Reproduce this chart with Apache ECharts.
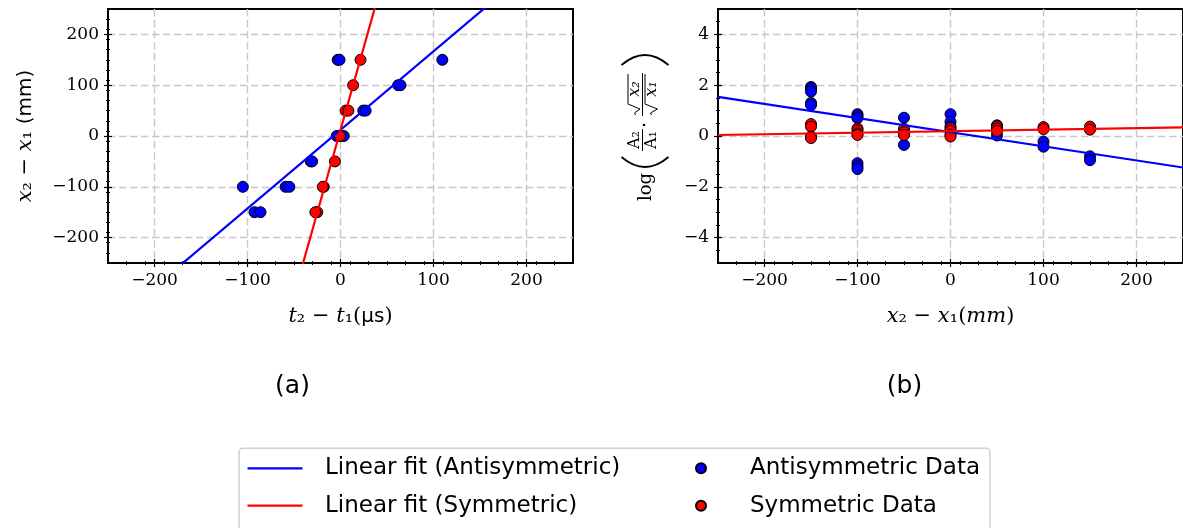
<!DOCTYPE html>
<html>
<head>
<meta charset="utf-8">
<script src="https://cdn.jsdelivr.net/npm/echarts@6/dist/echarts.min.js"></script>
<style>
  html, body { margin: 0; padding: 0; background: #fff; }
  #chart { width: 1183px; height: 528px; }
</style>
</head>
<body>
<div id="chart"></div>
<script>
// ---- (a) arrival-time difference vs. sensor spacing ----
const antiDelayA   = [-3, -1, 109.5, 62, 64.5, 24.5, 27, -4, 0, 3.5, -32, -30.5, -105, -59, -55, -92.5, -86];
const antiSpacingA = [150, 150, 150, 100, 100, 50, 50, 0, 0, 0, -50, -50, -100, -100, -100, -150, -150];
const symDelayA    = [21.5, 13.6, 5.5, 8.5, -0.7, -6, -18, -19, -25, -27];
const symSpacingA  = [150, 100, 50, 50, 0, -50, -100, -100, -150, -150];
// linear fits: [slope, intercept]
const fitAntiA = [1.547, 12];
const fitSymA  = [6.51, 11.7];

// ---- (b) log amplitude ratio vs. sensor spacing ----
const antiPosB   = [-150, -150, -150, -150, -150, -100, -100, -100, -100, -100, -100, -50, -50, 0, 0, 0, 50, 50, 50, 100, 100, 150, 150];
const antiRatioB = [1.93, 1.85, 1.75, 1.3, 1.22, 0.86, 0.78, 0.7, -1.07, -1.2, -1.3, 0.72, -0.35, 0.86, 0.56, 0.37, 0.42, 0.35, 0.02, -0.22, -0.42, -0.8, -0.95];
const symPosB    = [-150, -150, -150, -150, -100, -100, -100, -100, -50, -50, -50, 0, 0, 0, 0, 50, 50, 50, 100, 100, 150, 150];
const symRatioB  = [0.47, 0.37, -0.02, -0.08, 0.3, 0.22, 0.1, 0.04, 0.28, 0.15, 0.04, 0.3, 0.2, 0.05, -0.02, 0.38, 0.3, 0.2, 0.35, 0.27, 0.37, 0.25];
const fitAntiB = [-0.00556, 0.15];
const fitSymB  = [0.0006, 0.19];

// ---- axes ----
const spanA = [-250, 250];
const spanBX = [-250, 250];
const spanBY = [-5, 5];
const ticksA  = [-200, -100, 0, 100, 200];
const ticksBX = [-200, -100, 0, 100, 200];
const ticksBY = [-4, -2, 0, 2, 4];

function minorValues(span, step, majors) {
  const out = [];
  for (let v = span[0] + step; v < span[1] - 1e-9; v += step) {
    const r = Math.round(v * 100) / 100;
    if (!majors.some(m => Math.abs(m - r) < 1e-9)) out.push(r);
  }
  return out;
}

const zip = (xs, ys) => xs.map((x, i) => [x, ys[i]]);
const fitLine = (f, span) => span.map(x => [x, f[0] * x + f[1]]);
const fmt = v => (v < 0 ? '\u2212' + Math.abs(v) : String(v));

const SERIF = 'DejaVu Serif';
const SANS = 'DejaVu Sans';
const BLUE = '#0000ff';
const RED = '#ff0000';

const nameRich = {
  i: { fontFamily: SERIF, fontStyle: 'italic', fontSize: 21, color: '#000' },
  s: { fontFamily: SANS, fontSize: 20, color: '#000' }
};

function mainAxis(grid, span, ticks, extra) {
  return Object.assign({
    type: 'value', gridIndex: grid, min: span[0], max: span[1],
    axisLine: { show: true, onZero: false, lineStyle: { color: '#000', width: 2 } },
    axisTick: { show: false, customValues: ticks },
    axisLabel: { customValues: ticks, formatter: fmt, margin: 9, color: '#000', fontFamily: SERIF, fontSize: 17 },
    splitLine: { show: true, lineStyle: { color: '#c8c8c8', width: 1.4, type: [7.5, 3.5] } },
    nameTextStyle: { fontFamily: SERIF, fontSize: 21, color: '#000', rich: nameRich }
  }, extra || {});
}

// tick-only axes shifted inward so the marks straddle the spine
function tickAxis(grid, span, values, len, pos, width) {
  return {
    type: 'value', gridIndex: grid, min: span[0], max: span[1], position: pos,
    offset: -len / 2,
    axisLine: { show: false, onZero: false },
    axisLabel: { show: false },
    splitLine: { show: false },
    axisTick: { show: true, inside: false, length: len, customValues: values, lineStyle: { color: '#000', width: width } }
  };
}

const xAxes = [
  mainAxis(0, spanA, ticksA, {
    position: 'bottom',
    name: '{i|t}\u2082 \u2212 {i|t}\u2081({s|\u00b5s})', nameLocation: 'middle', nameGap: 43
  }),
  tickAxis(0, spanA, ticksA, 8, 'bottom', 1.2),
  tickAxis(0, spanA, minorValues(spanA, 20, ticksA), 4, 'bottom', 1),
  mainAxis(1, spanBX, ticksBX, {
    position: 'bottom',
    name: '{i|x}\u2082 \u2212 {i|x}\u2081({i|mm})', nameLocation: 'middle', nameGap: 43
  }),
  tickAxis(1, spanBX, ticksBX, 8, 'bottom', 1.2),
  tickAxis(1, spanBX, minorValues(spanBX, 20, ticksBX), 4, 'bottom', 1)
];

const yAxes = [
  mainAxis(0, spanA, ticksA, {
    position: 'left',
    name: '{i|x}\u2082 \u2212 {i|x}\u2081 {s|(mm)}', nameLocation: 'middle', nameRotate: 90, nameGap: 72
  }),
  tickAxis(0, spanA, ticksA, 8, 'left', 1.2),
  tickAxis(0, spanA, minorValues(spanA, 20, ticksA), 4, 'left', 1),
  mainAxis(1, spanBY, ticksBY, { position: 'left' }),
  tickAxis(1, spanBY, ticksBY, 8, 'left', 1.2),
  tickAxis(1, spanBY, minorValues(spanBY, 0.5, ticksBY), 4, 'left', 1)
];

const dotStyle = c => ({ color: c, borderColor: '#000', borderWidth: 1, opacity: 1 });
const lineSeries = (name, data, color, xi, yi) => ({
  name, type: 'line', xAxisIndex: xi, yAxisIndex: yi, data,
  symbol: 'none', showSymbol: false, clip: true, z: 4,
  lineStyle: { color, width: 2.2 }, itemStyle: { color }
});
const dotSeries = (name, data, color, xi, yi, z) => ({
  name, type: 'scatter', xAxisIndex: xi, yAxisIndex: yi, data,
  symbol: 'circle', symbolSize: 11, z, itemStyle: dotStyle(color)
});

const legendText = (padLeft) => ({
  fontFamily: SANS, fontSize: 23, color: '#000', lineHeight: 26, padding: [0, 0, 0, padLeft]
});

// stacked-fraction label for panel (b), laid out along the text baseline and rotated upright
const M = '#000';
const frac = (ux0, ux1) => ({ type: 'line', shape: { x1: ux0, y1: 0, x2: ux1, y2: 0 }, style: { stroke: M, lineWidth: 1 } });
const paren = (xEnd, xCtrl) => ({
  type: 'bezierCurve',
  shape: { x1: xEnd, y1: -21, x2: xEnd, y2: 26, cpx1: xCtrl, cpy1: 2.5 },
  style: { stroke: M, lineWidth: 1.8, fill: null }
});
const radical = (pts) => ({ type: 'polyline', shape: { points: pts }, style: { stroke: M, lineWidth: 1, fill: null } });
const mathText = (t, x, y, size, italic) => ({
  type: 'text', x, y,
  style: { text: t, fontFamily: SERIF, fontSize: size, fontStyle: italic ? 'italic' : 'normal', fill: M, align: 'center', verticalAlign: 'middle' }
});

const logLabel = {
  type: 'group', x: 642.5, y: 130, rotation: Math.PI / 2,
  children: [
    mathText('log', -57, 4, 18, false),
    paren(-27, -47),
    mathText('A\u2082', -10, -8, 16, false),
    frac(-21, 1),
    mathText('A\u2081', -10, 9, 16, false),
    { type: 'circle', shape: { cx: 5, cy: 1.5, r: 1.3 }, style: { fill: M } },
    radical([[15, -7], [17, -8], [21, -2.5], [26, -14.5], [56, -14.5]]),
    mathText('x\u2082', 41, -7.5, 16, true),
    frac(14, 57),
    radical([[15, 9], [17, 8], [21, 15], [26, 2.5], [56, 2.5]]),
    mathText('x\u2081', 41, 9.5, 16, true),
    paren(65, 85)
  ]
};

const lineIcon = 'rect';

const option = {
  animation: false,
  backgroundColor: '#fff',
  grid: [
    { left: 108, top: 9, width: 465, height: 254, show: true, borderColor: '#000', borderWidth: 2, backgroundColor: 'transparent' },
    { left: 718, top: 9, width: 465, height: 254, show: true, borderColor: '#000', borderWidth: 2, backgroundColor: 'transparent' }
  ],
  xAxis: xAxes,
  yAxis: yAxes,
  legend: [
    {
      data: [
        { name: 'Linear fit (Antisymmetric)', icon: lineIcon },
        { name: 'Linear fit (Symmetric)', icon: lineIcon }
      ],
      orient: 'vertical', left: 247.5, top: 455.3, padding: 0,
      itemWidth: 55, itemHeight: 2.2, itemGap: 11.4, selectedMode: false,
      textStyle: legendText(17.5)
    },
    {
      data: ['Antisymmetric Data', 'Symmetric Data'],
      orient: 'vertical', left: 695, top: 455.3, padding: 0,
      itemWidth: 10, itemHeight: 10, itemGap: 11.4, selectedMode: false,
      textStyle: legendText(39)
    }
  ],
  graphic: [
    {
      type: 'rect', z: 0, silent: true,
      shape: { x: 239, y: 448.3, width: 751, height: 110, r: 4 },
      style: { fill: '#fff', stroke: '#d0d0d0', lineWidth: 1.5 }
    },
    { type: 'text', x: 292.5, y: 386, style: { text: '(a)', fontFamily: SANS, fontSize: 25, fill: '#000', align: 'center', verticalAlign: 'middle' } },
    { type: 'text', x: 904.5, y: 386, style: { text: '(b)', fontFamily: SANS, fontSize: 25, fill: '#000', align: 'center', verticalAlign: 'middle' } },
    logLabel
  ],
  series: [
    dotSeries('Antisymmetric Data', zip(antiDelayA, antiSpacingA), BLUE, 0, 0, 2),
    dotSeries('Symmetric Data', zip(symDelayA, symSpacingA), RED, 0, 0, 3),
    lineSeries('Linear fit (Antisymmetric)', fitLine(fitAntiA, spanA), BLUE, 0, 0),
    lineSeries('Linear fit (Symmetric)', fitLine(fitSymA, spanA), RED, 0, 0),
    dotSeries('Antisymmetric Data', zip(antiPosB, antiRatioB), BLUE, 3, 3, 2),
    dotSeries('Symmetric Data', zip(symPosB, symRatioB), RED, 3, 3, 3),
    lineSeries('Linear fit (Antisymmetric)', fitLine(fitAntiB, spanBX), BLUE, 3, 3),
    lineSeries('Linear fit (Symmetric)', fitLine(fitSymB, spanBX), RED, 3, 3)
  ]
};

const chart = echarts.init(document.getElementById('chart'), null, { renderer: 'canvas' });
chart.setOption(option);
</script>
</body>
</html>
